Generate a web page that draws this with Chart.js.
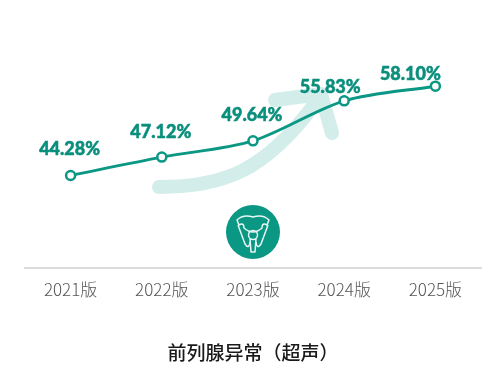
<!DOCTYPE html>
<html><head><meta charset="utf-8">
<style>html,body{margin:0;padding:0;background:#fff}#w{width:504px;height:372px;position:relative}</style>
<script src="https://cdn.jsdelivr.net/npm/chart.js@4"></script>
</head><body><div id="w"><canvas id="c" width="504" height="372"></canvas></div>
<script>
const categories = ['2021版','2022版','2023版','2024版','2025版'];
const detectionRate = [44.28,47.12,49.64,55.83,58.10];
const valueLabels = ['44.28%','47.12%','49.64%','55.83%','58.10%'];
const chartTitle = '前列腺异常（超声）';

const teal='#0a9784', labelTeal='#0a8f7d', pale='#d3edea';
const labelFont='900 18px Lato, "Noto Sans", sans-serif';
const nudge=[[-1,-26],[-1,-25],[-1,-26],[-14,-14],[-25,-12]];

const arrow={id:'arrow',beforeDatasetsDraw(ch){
  const c=ch.ctx;c.save();c.strokeStyle=pale;c.lineWidth=14;c.lineCap='round';c.lineJoin='round';
  c.beginPath();c.moveTo(159,187);c.bezierCurveTo(225,187,265,170,314,105);c.stroke();
  c.beginPath();c.moveTo(275,100);c.lineTo(321,94);c.lineTo(332,133);c.stroke();
  c.restore();
}};
const icon={id:'icon',afterDraw(ch){
  const c=ch.ctx;c.save();c.translate(253,232);
  c.fillStyle=teal;c.beginPath();c.arc(0,0,27,0,Math.PI*2);c.fill();
  c.strokeStyle='#e8f6f4';c.lineWidth=1.5;c.lineJoin='round';
  c.beginPath();c.moveTo(-16,-12);c.quadraticCurveTo(-10,-18,0,-15);c.quadraticCurveTo(10,-18,16,-12);c.lineTo(14,-7);c.quadraticCurveTo(9,-10,9,-4);c.quadraticCurveTo(0,4,-9,-4);c.quadraticCurveTo(-9,-10,-14,-7);c.closePath();c.stroke();
  c.beginPath();c.moveTo(-15,-7);c.lineTo(-8,12);c.quadraticCurveTo(-4,18,-3,10);c.moveTo(15,-7);c.lineTo(8,12);c.quadraticCurveTo(4,18,3,10);c.stroke();
  c.beginPath();c.arc(0,3,4.5,0,Math.PI*2);c.stroke();
  c.beginPath();c.moveTo(-3,7);c.lineTo(-2,20);c.lineTo(2,20);c.lineTo(3,7);c.stroke();
  c.restore();
}};
const valueText={id:'valueText',afterDatasetsDraw(ch){
  const c=ch.ctx,m=ch.getDatasetMeta(0).data;c.save();c.font=labelFont;c.fillStyle=labelTeal;c.strokeStyle=labelTeal;c.lineWidth=0.5;c.textAlign='center';c.textBaseline='middle';
  m.forEach((p,i)=>{c.fillText(valueLabels[i],p.x+nudge[i][0],p.y+nudge[i][1]);c.strokeText(valueLabels[i],p.x+nudge[i][0],p.y+nudge[i][1]);});
  c.restore();
}};
new Chart(document.getElementById('c'),{
  type:'line',
  data:{labels:categories,datasets:[{data:detectionRate,borderColor:teal,borderWidth:3,tension:0.3,
    pointRadius:4.5,pointBorderWidth:2.5,pointBackgroundColor:'#fff',pointBorderColor:teal,fill:false}]},
  plugins:[arrow,valueText,icon],
  options:{responsive:false,animation:false,
    layout:{padding:{left:25,right:23,top:28,bottom:8}},
    plugins:{legend:{display:false},tooltip:{enabled:false},
      title:{display:true,position:'bottom',text:chartTitle,color:'#1a1a1a',font:{family:'"Noto Sans CJK SC"',size:19,weight:'500'},padding:{top:29,bottom:0}}},
    scales:{
      y:{display:false,min:29.99,max:67.1},
      x:{offset:true,grid:{display:false,drawTicks:false},border:{color:'#dcdcdc',width:2},
        ticks:{color:'#555',padding:12,maxRotation:0,font:{family:'"Noto Sans CJK SC"',size:17,weight:'300'}}}
    }}
});
</script></body></html>
